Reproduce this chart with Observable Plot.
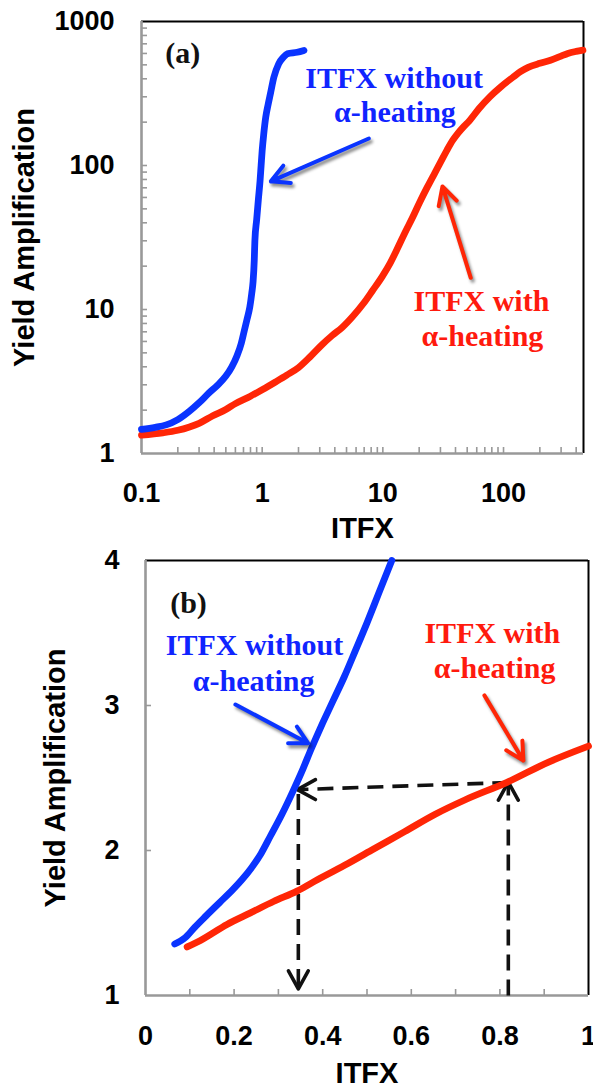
<!DOCTYPE html>
<html>
<head>
<meta charset="utf-8">
<script src="https://cdn.jsdelivr.net/npm/d3@7"></script>
<script src="https://cdn.jsdelivr.net/npm/@observablehq/plot@0.6"></script>
<style>
  html, body { margin: 0; padding: 0; background: #fff; }
  #chart { width: 593px; }
  #chart svg { display: block; }
</style>
</head>
<body>
<div id="chart"></div>
<script>
// ---------- DATA ----------
// Panel (a): log-log, Yield Amplification vs ITFX
const aBlueX = [0.1,0.13,0.16,0.2,0.25,0.3,0.36,0.43,0.5,0.56,0.62,0.67,0.71,0.75,0.79,0.82,0.84,0.86,0.87,0.9,0.93,0.96,0.98,1.0,1.03,1.07,1.12,1.17,1.25,1.37,1.5,1.62,1.95,2.22];
const aBlueY = [1.47,1.52,1.58,1.72,1.97,2.25,2.62,3.0,3.45,4.0,4.8,5.8,7.1,8.6,10.4,13,15.5,22,30,42,58,78,100,127,165,216,265,315,410,508,565,597,612,630];
const aRedX = [0.1,0.15,0.2,0.25,0.3,0.39,0.5,0.6,0.8,1.0,1.3,1.6,2.0,2.5,3.1,3.8,4.6,5.6,6.9,8.2,9.9,11.5,13.2,15.2,17.5,20.3,23.4,27,30,34,38,42,47,52,63,77,95,122,138,160,200,245,300,341,400,455];
const aRedY = [1.34,1.39,1.45,1.53,1.62,1.83,2.02,2.22,2.5,2.77,3.15,3.5,3.95,4.7,5.65,6.6,7.5,8.9,11,13.5,17,21,26.5,34,43,56,71,89,105,128,150,168,187,204,250,300,352,415,448,480,512,538,575,600,620,632];

// Panel (b): linear, zoom at low ITFX
const bBlueX = [0.066,0.09,0.111,0.137,0.167,0.197,0.218,0.239,0.261,0.282,0.308,0.333,0.355,0.374,0.397,0.423,0.449,0.474,0.5,0.526,0.556];
const bBlueY = [1.355,1.4,1.47,1.55,1.64,1.73,1.8,1.88,1.98,2.1,2.25,2.41,2.56,2.7,2.86,3.03,3.2,3.38,3.57,3.77,4.0];
const bRedX = [0.094,0.124,0.184,0.237,0.29,0.342,0.389,0.457,0.515,0.585,0.654,0.722,0.816,0.91,1.0];
const bRedY = [1.335,1.38,1.49,1.57,1.65,1.72,1.8,1.91,2.01,2.13,2.25,2.35,2.47,2.61,2.72];

// Tick labels
const aXTicks = [0.1, 1, 10, 100];
const aYTicks = [1, 10, 100, 1000];
const bXTicks = [0, 0.2, 0.4, 0.6, 0.8, 1];
const bYTicks = [1, 2, 3, 4];

// Annotations (data coordinates)
const aLabelText = ["(a)", "ITFX without", "α-heating", "ITFX with", "α-heating"];
const aLabelX = [0.22, 12.4, 12.6, 65.6, 66.9];
const aLabelY = [511, 348, 199, 9.7, 5.6];
const aLabelKey = ["panel", "without", "without", "with", "with"];

const bLabelText = ["(b)", "ITFX without", "α-heating", "ITFX with", "α-heating"];
const bLabelX = [0.097, 0.246, 0.244, 0.783, 0.788];
const bLabelY = [3.64, 3.345, 3.10, 3.43, 3.19];
const bLabelKey = ["panel", "without", "without", "with", "with"];

// Pointer arrows: [x1, y1, x2, y2]
const aArrowKey = ["without", "with"];
const aArrowX1 = [7.66, 53.5], aArrowY1 = [154, 16.6], aArrowX2 = [1.18, 31.2], aArrowY2 = [77.6, 71.5];
const bArrowKey = ["without", "with"];
const bArrowX1 = [0.203, 0.765], bArrowY1 = [3.007, 3.07], bArrowX2 = [0.367, 0.853], bArrowY2 = [2.74, 2.62];

// Dashed read-off path in (b)
const dashX1 = [0.819, 0.819, 0.345], dashY1 = [1.0, 2.469, 2.39];
const dashX2 = [0.819, 0.343, 0.345], dashY2 = [2.469, 2.42, 1.055];
const headX = [0.819, 0.343, 0.345], headY = [2.471, 2.42, 1.046], headDir = [-90, 180, 90];

// ---------- STYLE ----------
const BLUE = "#0a34ff", RED = "#ff2606";
const TXT = {panel: "#111", without: "#1024ff", with: "#ff1a0e"};
const COL = {without: BLUE, with: RED};
const sans = "'Liberation Sans', Arial, Helvetica, sans-serif";
const serif = "'Liberation Serif', 'Times New Roman', serif";

const rows = (xs, ys) => xs.map((x, i) => ({x, y: ys[i]}));
const labels = (t, xs, ys, ks) => t.map((s, i) => ({text: s, x: xs[i], y: ys[i], key: ks[i]}));
const arrows = (ks, x1, y1, x2, y2) => ks.map((k, i) => ({key: k, x1: x1[i], y1: y1[i], x2: x2[i], y2: y2[i]}));

const chevron = {
  draw(ctx, size) {
    const r = Math.sqrt(size / Math.PI);
    ctx.moveTo(-r, -r * 0.55);
    ctx.lineTo(0, 0);
    ctx.lineTo(-r, r * 0.55);
  }
};

const tickFont = {fontFamily: sans, fontWeight: "bold", fontSize: 27, fill: "#000"};
const titleFont = {fontFamily: sans, fontWeight: "bold", fontSize: 29, fill: "#000"};
const noteFont = {fontFamily: serif, fontWeight: "bold", fontSize: 30};

// ---------- PANEL (a) ----------
const aW = 593, aH = 540, aML = 141, aMR = 10, aMT = 21, aMB = 87;
const aPW = aW - aML - aMR, aPH = aH - aMT - aMB;
const aMinorX = d3.scaleLog().domain([0.1, 460]).ticks().filter(v => v > 0.1 && v < 460);
const aMinorY = d3.scaleLog().domain([1, 1000]).ticks().filter(v => v > 1 && v < 1000);
const aArrows = arrows(aArrowKey, aArrowX1, aArrowY1, aArrowX2, aArrowY2);

const plotA = Plot.plot({
  width: aW, height: aH,
  marginLeft: aML, marginRight: aMR, marginTop: aMT, marginBottom: aMB,
  x: {type: "log", domain: [0.1, 460]},
  y: {type: "log", domain: [1, 1000]},
  style: {background: "#fff", fontFamily: sans, overflow: "visible"},
  marks: [
    Plot.ruleY([1000], {stroke: "#000", strokeWidth: 2}),
    Plot.ruleX([460], {stroke: "#000", strokeWidth: 2}),
    Plot.tickX(aMinorX, {x: d => d, stroke: "#999", strokeWidth: 1.6, insetTop: aPH - 6}),
    Plot.tickY(aMinorY, {y: d => d, stroke: "#999", strokeWidth: 1.6, insetRight: aPW - 6}),
    Plot.ruleY([1], {stroke: "#999", strokeWidth: 2.6}),
    Plot.ruleX([0.1], {stroke: "#999", strokeWidth: 2.6}),
    Plot.axisX({ticks: aXTicks, tickFormat: d => String(d), tickSize: 0, tickPadding: 29, label: null, ...tickFont}),
    Plot.axisY({ticks: aYTicks, tickFormat: d => String(d), tickSize: 0, tickPadding: 27, label: null, ...tickFont}),
    Plot.text(["ITFX"], {text: d => d, frameAnchor: "bottom", dy: 84, lineAnchor: "bottom", ...titleFont}),
    Plot.text(["Yield Amplification"], {text: d => d, frameAnchor: "left", rotate: -90, dx: -128, lineAnchor: "top", textAnchor: "middle", ...titleFont}),
    Plot.line(rows(aRedX, aRedY), {x: "x", y: "y", stroke: RED, strokeWidth: 6.8, curve: "monotone-x", strokeLinecap: "round", strokeLinejoin: "round"}),
    Plot.line(rows(aBlueX, aBlueY), {x: "x", y: "y", stroke: BLUE, strokeWidth: 6.8, curve: "monotone-x", strokeLinecap: "round", strokeLinejoin: "round"}),
    Plot.arrow(aArrows, {x1: "x1", y1: "y1", x2: "x2", y2: "y2", stroke: "#000", strokeOpacity: 0.45, strokeWidth: 4, headLength: 7.5, headAngle: 56, dx: 2, dy: 3}),
    Plot.arrow(aArrows, {x1: "x1", y1: "y1", x2: "x2", y2: "y2", stroke: d => COL[d.key], strokeWidth: 4, headLength: 7.5, headAngle: 56}),
    Plot.text(labels(aLabelText, aLabelX, aLabelY, aLabelKey), {x: "x", y: "y", text: "text", fill: d => TXT[d.key], lineAnchor: "bottom", textAnchor: "middle", ...noteFont})
  ]
});

// ---------- PANEL (b) ----------
const bW = 593, bH = 545, bML = 145, bMR = 5, bMT = 20, bMB = 90;
const bPW = bW - bML - bMR, bPH = bH - bMT - bMB;
const bMinorX = d3.range(1, 10).map(i => i / 10);
const bMinorY = [2, 3];
const bArrows = arrows(bArrowKey, bArrowX1, bArrowY1, bArrowX2, bArrowY2);
const dashes = dashX1.map((x, i) => ({x1: x, y1: dashY1[i], x2: dashX2[i], y2: dashY2[i]}));
const heads = headX.map((x, i) => ({x, y: headY[i], r: headDir[i]}));

const plotB = Plot.plot({
  width: bW, height: bH,
  marginLeft: bML, marginRight: bMR, marginTop: bMT, marginBottom: bMB,
  x: {domain: [0, 1]},
  y: {domain: [1, 4]},
  style: {background: "#fff", fontFamily: sans, overflow: "visible"},
  marks: [
    Plot.ruleY([4], {stroke: "#000", strokeWidth: 2}),
    Plot.ruleX([1], {stroke: "#000", strokeWidth: 2}),
    Plot.tickX(bMinorX, {x: d => d, stroke: "#999", strokeWidth: 1.6, insetTop: bPH - 6}),
    Plot.tickY(bMinorY, {y: d => d, stroke: "#999", strokeWidth: 1.6, insetRight: bPW - 6}),
    Plot.ruleY([1], {stroke: "#999", strokeWidth: 2.6}),
    Plot.ruleX([0], {stroke: "#999", strokeWidth: 2.6}),
    Plot.axisX({ticks: bXTicks, tickFormat: d => String(d), tickSize: 0, tickPadding: 30, label: null, ...tickFont}),
    Plot.axisY({ticks: bYTicks, tickFormat: d => String(d), tickSize: 0, tickPadding: 26, label: null, ...tickFont}),
    Plot.text(["ITFX"], {text: d => d, frameAnchor: "bottom", dy: 87, lineAnchor: "bottom", ...titleFont}),
    Plot.text(["Yield Amplification"], {text: d => d, frameAnchor: "left", rotate: -90, dx: -101, lineAnchor: "top", textAnchor: "middle", ...titleFont}),
    Plot.link(dashes, {x1: "x1", y1: "y1", x2: "x2", y2: "y2", stroke: "#111", strokeWidth: 3.6, strokeDasharray: "16,9"}),
    Plot.dot(heads, {x: "x", y: "y", rotate: "r", symbol: chevron, r: 18, fill: "none", stroke: "#111", strokeWidth: 3.6, strokeLinecap: "round", strokeLinejoin: "round"}),
    Plot.line(rows(bRedX, bRedY), {x: "x", y: "y", stroke: RED, strokeWidth: 6.8, curve: "monotone-x", strokeLinecap: "round", strokeLinejoin: "round"}),
    Plot.line(rows(bBlueX, bBlueY), {x: "x", y: "y", stroke: BLUE, strokeWidth: 6.8, curve: "monotone-x", strokeLinecap: "round", strokeLinejoin: "round"}),
    Plot.arrow(bArrows, {x1: "x1", y1: "y1", x2: "x2", y2: "y2", stroke: "#000", strokeOpacity: 0.45, strokeWidth: 4, headLength: 7.5, headAngle: 56, dx: 2, dy: 3}),
    Plot.arrow(bArrows, {x1: "x1", y1: "y1", x2: "x2", y2: "y2", stroke: d => COL[d.key], strokeWidth: 4, headLength: 7.5, headAngle: 56}),
    Plot.text(labels(bLabelText, bLabelX, bLabelY, bLabelKey), {x: "x", y: "y", text: "text", fill: d => TXT[d.key], lineAnchor: "bottom", textAnchor: "middle", ...noteFont})
  ]
});

function addShadow(svg, id) {
  const s = d3.select(svg);
  const f = s.append("defs").append("filter").attr("id", id)
    .attr("x", "-30%").attr("y", "-30%").attr("width", "160%").attr("height", "160%");
  f.append("feGaussianBlur").attr("stdDeviation", 1.6);
  const g = s.selectAll('g[aria-label="arrow"]').nodes();
  if (g.length) d3.select(g[0]).attr("filter", `url(#${id})`);
}
addShadow(plotA, "shA");
addShadow(plotB, "shB");

document.getElementById("chart").append(plotA, plotB);
</script>
</body>
</html>
